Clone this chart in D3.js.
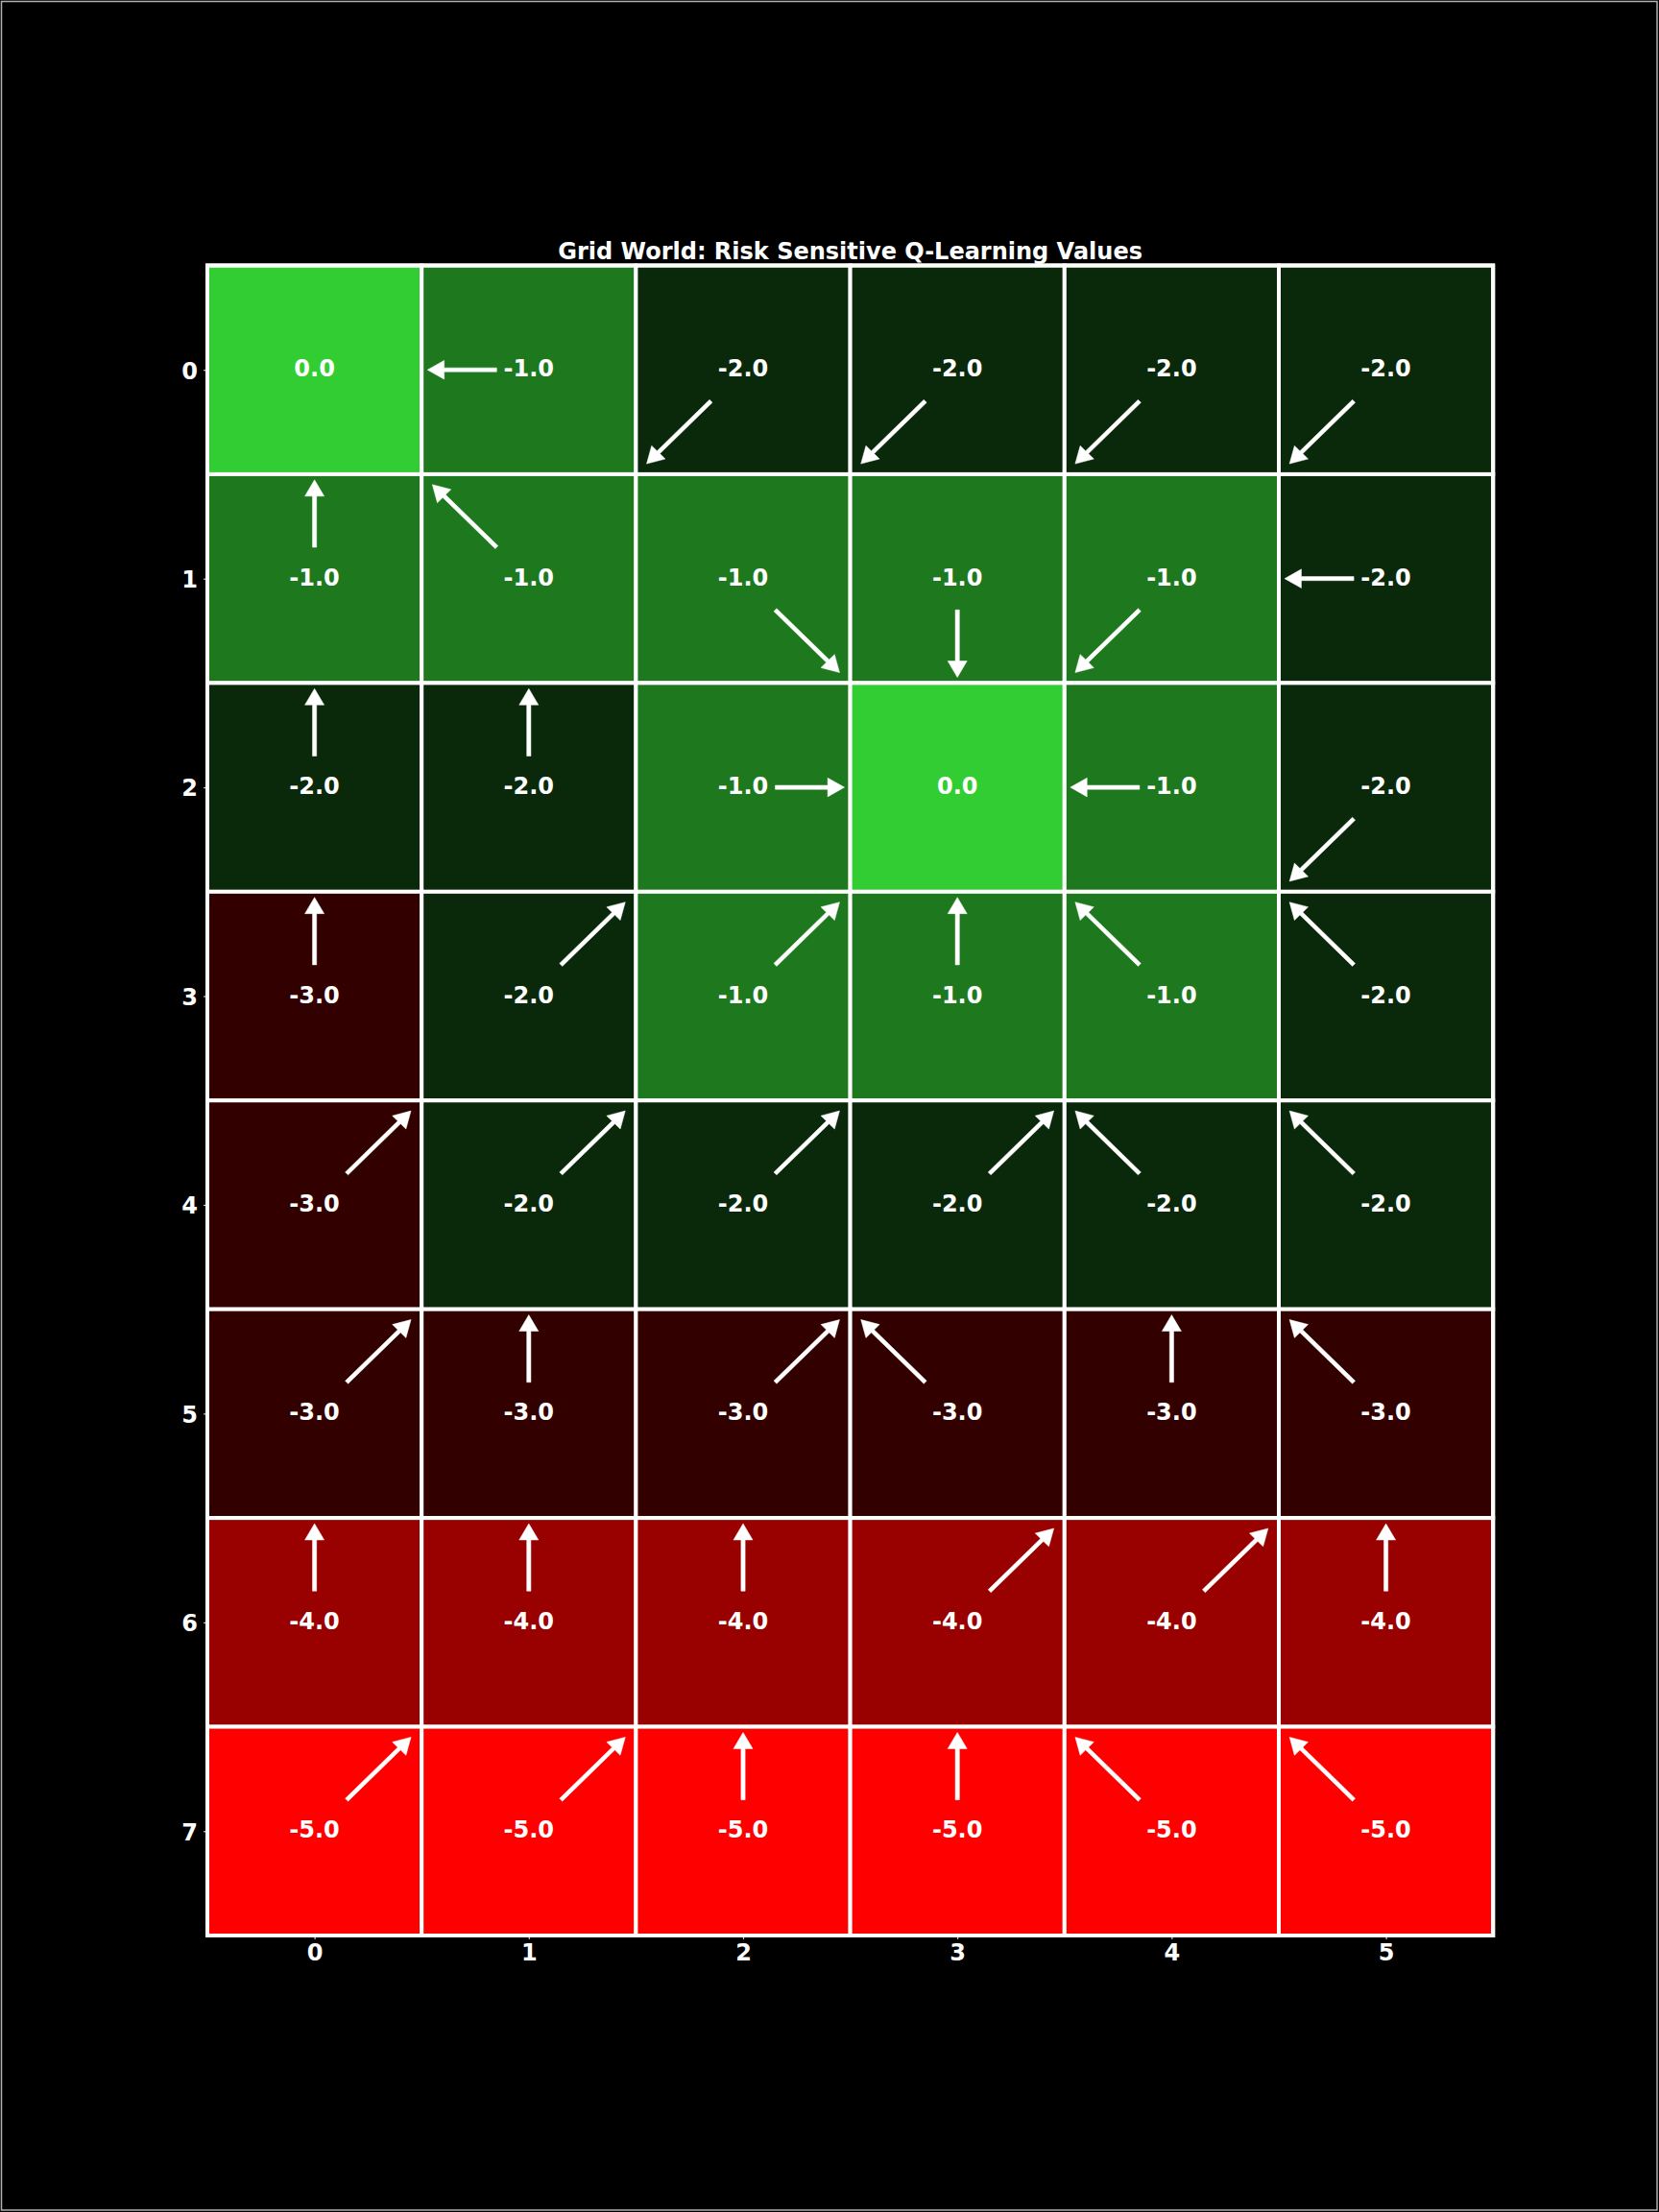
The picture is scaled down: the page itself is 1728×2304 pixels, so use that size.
<!DOCTYPE html>
<html><head><meta charset="utf-8">
<script src="https://cdn.jsdelivr.net/npm/d3@7"></script>
<style>html,body{margin:0;padding:0;background:#000;} svg{display:block}</style>
</head><body><div id="chart"></div>
<script>
const title = "Grid World: Risk Sensitive Q-Learning Values";
const colLabels = ["0","1","2","3","4","5"];
const rowLabels = ["0","1","2","3","4","5","6","7"];
const values = [
  [0,-1,-2,-2,-2,-2],
  [-1,-1,-1,-1,-1,-2],
  [-2,-2,-1,0,-1,-2],
  [-3,-2,-1,-1,-1,-2],
  [-3,-2,-2,-2,-2,-2],
  [-3,-3,-3,-3,-3,-3],
  [-4,-4,-4,-4,-4,-4],
  [-5,-5,-5,-5,-5,-5]
];
const policy = [
  ["","L","DL","DL","DL","DL"],
  ["U","UL","DR","D","DL","L"],
  ["U","U","R","","L","DL"],
  ["U","UR","UR","U","UL","UL"],
  ["UR","UR","UR","UR","UL","UL"],
  ["UR","U","UR","UL","U","UL"],
  ["U","U","U","UR","UR","U"],
  ["UR","UR","U","U","UL","UL"]
];
const colorStops = [-5,-3.75,-2.5,-1.25,0];
const colorRange = ["#ff0000","#800000","#000000","#196419","#32cd32"];

(function(){
const W = 1728, H = 2304;
const axL = 216, axR = 1555.2, axT = 276.5, axB = 2016;
const FONT = "'DejaVu Sans', sans-serif";

const svg = d3.select("#chart").append("svg").attr("width", W).attr("height", H);
svg.append("rect").attr("x",0).attr("y",0).attr("width",W).attr("height",H).attr("fill","#000");
svg.append("rect").attr("x",1.5).attr("y",1.5).attr("width",W-3.5).attr("height",H-3.5)
  .attr("fill","none").attr("stroke","#b0b0b0").attr("stroke-width",1.5);

const x = d3.scaleLinear().domain([-0.5, colLabels.length-0.5]).range([axL, axR]);
const y = d3.scaleLinear().domain([-0.5, rowLabels.length-0.5]).range([axT, axB]);
const color = d3.scaleLinear().domain(colorStops).range(colorRange);

const cells = [];
values.forEach((row,i)=>row.forEach((v,j)=>cells.push({i,j,v,a:policy[i][j]})));

const g = svg.append("g");
g.selectAll("rect.cell").data(cells).join("rect").attr("class","cell")
  .attr("x", d=>x(d.j-0.5)).attr("y", d=>y(d.i-0.5))
  .attr("width", d=>x(d.j+0.5)-x(d.j-0.5)).attr("height", d=>y(d.i+0.5)-y(d.i-0.5))
  .attr("fill", d=>color(d.v)).attr("stroke","#fff").attr("stroke-width",4);

// arrows (FancyArrow geometry in data units)
const start = 0.15, shaft = 0.245, hl = 0.078, hw = 0.09, sw = 0.019;
function arrowPath(d){
  const dx = (d.a.includes("R")?1:0) - (d.a.includes("L")?1:0);
  const dy = (d.a.includes("D")?1:0) - (d.a.includes("U")?1:0);
  const sx = d.j + start*dx, sy = d.i + start*dy;
  const vx = shaft*dx, vy = shaft*dy;
  const dist = Math.hypot(vx,vy);
  const ux = vx/dist, uy = vy/dist, px = -uy, py = ux;
  const L = dist + hl;
  const tx = sx + ux*L, ty = sy + uy*L;
  const bx = tx - ux*hl, by = ty - uy*hl;
  const pts = [
    [sx + px*sw/2, sy + py*sw/2],
    [bx + px*sw/2, by + py*sw/2],
    [bx + px*hw/2, by + py*hw/2],
    [tx, ty],
    [bx - px*hw/2, by - py*hw/2],
    [bx - px*sw/2, by - py*sw/2],
    [sx - px*sw/2, sy - py*sw/2]
  ];
  return "M" + pts.map(p=>x(p[0]).toFixed(2)+","+y(p[1]).toFixed(2)).join("L") + "Z";
}
g.selectAll("path.arrow").data(cells.filter(d=>d.a)).join("path").attr("class","arrow")
  .attr("d", arrowPath).attr("fill","#fff").attr("stroke","#fff").attr("stroke-width",0.5);

g.selectAll("text.val").data(cells).join("text").attr("class","val")
  .attr("x", d=>x(d.j)).attr("y", d=>y(d.i)+7)
  .attr("text-anchor","middle").attr("fill","#fff")
  .style("font-family",FONT).style("font-weight","bold").style("font-size","24px")
  .text(d=>d.v.toFixed(1));

// axes
const xAxis = d3.axisBottom(x).tickValues(d3.range(colLabels.length)).tickFormat(i=>colLabels[i]).tickSize(4).tickPadding(5);
const yAxis = d3.axisLeft(y).tickValues(d3.range(rowLabels.length)).tickFormat(i=>rowLabels[i]).tickSize(4).tickPadding(6);
const gx = svg.append("g").attr("transform",`translate(0,${axB})`).call(xAxis);
const gy = svg.append("g").attr("transform",`translate(${axL},0)`).call(yAxis);
[gx,gy].forEach(a=>{
  a.select(".domain").remove();
  a.selectAll(".tick line").attr("stroke","#ccc").attr("stroke-width",1.2);
  a.selectAll(".tick text").attr("fill","#fff").style("font-family",FONT)
    .style("font-weight","bold").style("font-size","24px");
});
gy.selectAll(".tick text").attr("dy","0.37em");

// frame
svg.append("rect").attr("x",axL).attr("y",axT).attr("width",axR-axL).attr("height",axB-axT)
  .attr("fill","none").attr("stroke","#fff").attr("stroke-width",4);

svg.append("text").attr("x",(axL+axR)/2).attr("y",269.5).attr("text-anchor","middle")
  .attr("fill","#fff").style("font-family",FONT).style("font-weight","bold").style("font-size","24px")
  .text(title);
})();
</script>
</body></html>
